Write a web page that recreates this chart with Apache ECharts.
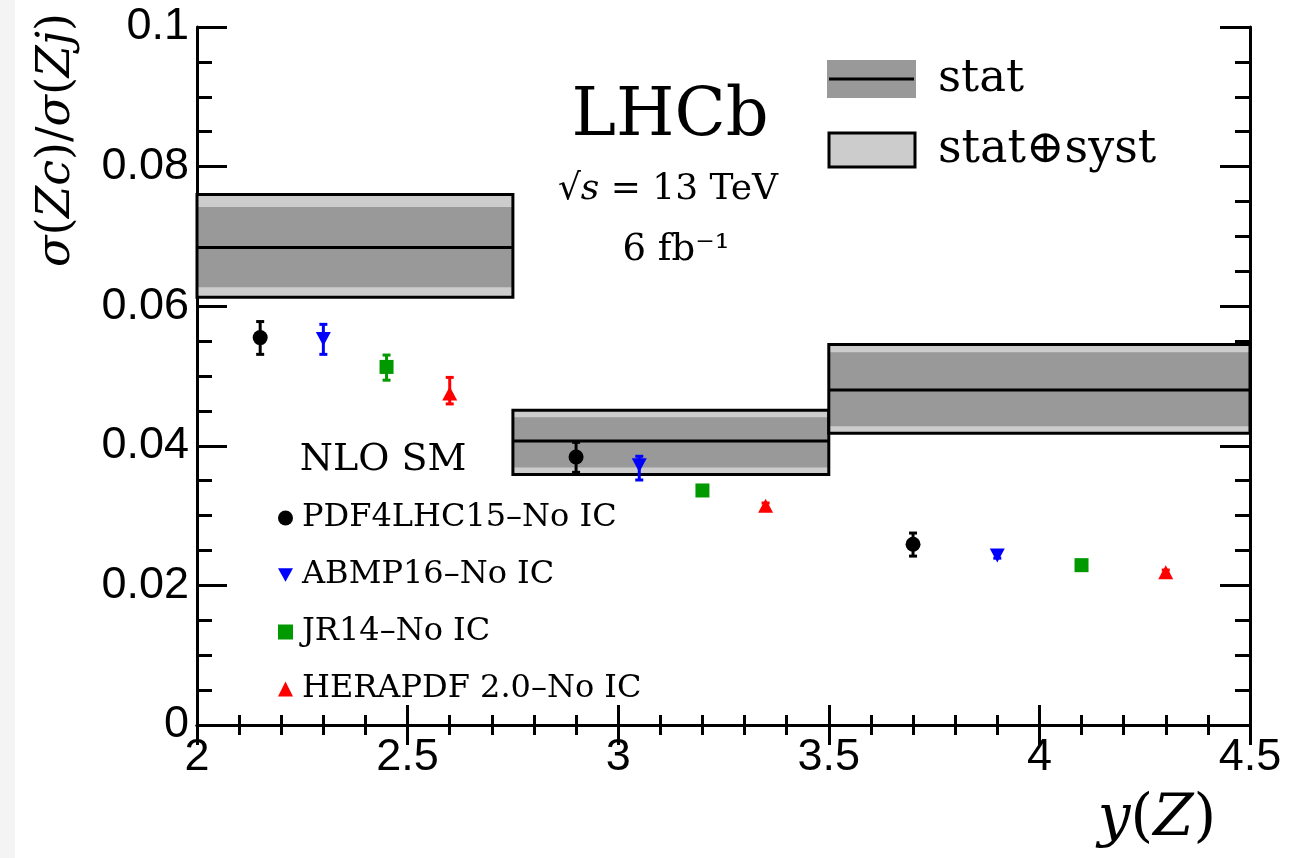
<!DOCTYPE html>
<html>
<head>
<meta charset="utf-8">
<script src="https://cdn.jsdelivr.net/npm/echarts@6/dist/echarts.min.js"></script>
<style>
  html, body { margin: 0; padding: 0; background: #fff; }
  #chart { width: 1312px; height: 858px; }
</style>
</head>
<body>
<div id="chart"></div>
<script>
// measured ratio in bins of y(Z)
const binLow = [2.0, 2.75, 3.5];
const binHigh = [2.75, 3.5, 4.5];
const central = [0.0684, 0.0407, 0.0480];
const statLow = [0.0627, 0.0369, 0.0428];
const statHigh = [0.0742, 0.0441, 0.0534];
const totLow = [0.0613, 0.0359, 0.0418];
const totHigh = [0.0760, 0.0451, 0.0545];

// NLO SM predictions (x shifted inside each bin)
const pdfX = [2.15, 2.9, 3.7];
const pdfY = [0.0555, 0.0384, 0.0259];
const pdfLo = [0.0531, 0.0362, 0.0242];
const pdfHi = [0.0578, 0.0405, 0.0275];

const abmX = [2.3, 3.05, 3.9];
const abmY = [0.0553, 0.0372, 0.0243];
const abmLo = [0.0531, 0.0351, 0.0239];
const abmHi = [0.0574, 0.0385, 0.0247];

const jrX = [2.45, 3.2, 4.1];
const jrY = [0.0513, 0.0336, 0.0229];
const jrLo = [0.0494, 0.0332, 0.0226];
const jrHi = [0.0530, 0.0340, 0.0232];

const heraX = [2.6, 3.35, 4.3];
const heraY = [0.0475, 0.0314, 0.0219];
const heraLo = [0.0460, 0.0310, 0.0216];
const heraHi = [0.0498, 0.0318, 0.0222];

const xTicks = { min: 2, max: 4.5, interval: 0.5 };
const yTicks = { min: 0, max: 0.1, interval: 0.02 };

const serif = "'DejaVu Serif', serif";
const tickFont = "'Liberation Sans', sans-serif";
const downTri = 'path://M0,0 L10,0 L5,9 Z';

const chart = echarts.init(document.getElementById('chart'), null, { renderer: 'canvas' });

const bandData = binLow.map((lo, i) => [lo, binHigh[i], central[i], statLow[i], statHigh[i], totLow[i], totHigh[i]]);

function renderBand(params, api) {
  const tl = api.coord([api.value(0), api.value(6)]);
  const br = api.coord([api.value(1), api.value(5)]);
  const st = api.coord([api.value(0), api.value(4)]);
  const sb = api.coord([api.value(1), api.value(3)]);
  const c0 = api.coord([api.value(0), api.value(2)]);
  const c1 = api.coord([api.value(1), api.value(2)]);
  const tot = { x: tl[0], y: tl[1], width: br[0] - tl[0], height: br[1] - tl[1] };
  return {
    type: 'group',
    children: [
      { type: 'rect', shape: tot, style: { fill: '#cccccc' } },
      { type: 'rect', shape: { x: st[0], y: st[1], width: sb[0] - st[0], height: sb[1] - st[1] }, style: { fill: '#999999' } },
      { type: 'line', shape: { x1: c0[0], y1: c0[1], x2: c1[0], y2: c1[1] }, style: { stroke: '#000', lineWidth: 3 } },
      { type: 'rect', shape: tot, style: { fill: 'none', stroke: '#000', lineWidth: 3 } }
    ]
  };
}

function errorBars(name, color, xs, lo, hi) {
  return {
    name: name + ' err',
    type: 'custom',
    z: 3,
    data: xs.map((x, i) => [x, lo[i], hi[i]]),
    renderItem: function (params, api) {
      const a = api.coord([api.value(0), api.value(1)]);
      const b = api.coord([api.value(0), api.value(2)]);
      const cap = 4;
      return {
        type: 'group',
        children: [
          { type: 'line', shape: { x1: a[0], y1: a[1], x2: b[0], y2: b[1] }, style: { stroke: color, lineWidth: 3 } },
          { type: 'line', shape: { x1: a[0] - cap, y1: a[1], x2: a[0] + cap, y2: a[1] }, style: { stroke: color, lineWidth: 3 } },
          { type: 'line', shape: { x1: b[0] - cap, y1: b[1], x2: b[0] + cap, y2: b[1] }, style: { stroke: color, lineWidth: 3 } }
        ]
      };
    }
  };
}

function points(name, color, symbol, size, xs, ys) {
  return {
    name: name,
    type: 'scatter',
    z: 4,
    symbol: symbol,
    symbolSize: size,
    itemStyle: { color: color, opacity: 1 },
    data: xs.map((x, i) => [x, ys[i]])
  };
}

const axisLine = { show: true, lineStyle: { color: '#000', width: 3 } };

function xAxisDef(pos, showLabel) {
  return {
    type: 'value', position: pos, min: xTicks.min, max: xTicks.max, interval: xTicks.interval,
    axisLine: axisLine,
    axisTick: { inside: true, length: 20, lineStyle: { color: '#000', width: 3 } },
    minorTick: { show: true, splitNumber: 5, length: 10, lineStyle: { color: '#000', width: 3 } },
    splitLine: { show: false },
    axisLabel: { show: showLabel, margin: 10, color: '#000', fontFamily: tickFont, fontSize: 45 }
  };
}

function yAxisDef(pos, showLabel) {
  return {
    type: 'value', position: pos, min: yTicks.min, max: yTicks.max, interval: yTicks.interval,
    axisLine: axisLine,
    axisTick: { inside: true, length: 30, lineStyle: { color: '#000', width: 3 } },
    minorTick: { show: true, splitNumber: 4, length: 15, lineStyle: { color: '#000', width: 3 } },
    splitLine: { show: false },
    axisLabel: { show: showLabel, margin: 8, color: '#000', fontFamily: tickFont, fontSize: 45 }
  };
}

const option = {
  backgroundColor: '#fff',
  animation: false,
  grid: { left: 197, top: 27, right: 62, bottom: 133 },
  xAxis: [xAxisDef('bottom', true), xAxisDef('top', false)],
  yAxis: [yAxisDef('left', true), yAxisDef('right', false)],
  legend: {
    orient: 'vertical',
    left: 273,
    top: 497,
    itemWidth: 15,
    itemHeight: 15,
    itemGap: 25,
    textStyle: { fontFamily: serif, fontSize: 32, lineHeight: 32, color: '#000', padding: [0, 0, 0, 4] },
    data: [
      { name: 'PDF4LHC15–No IC', icon: 'circle' },
      { name: 'ABMP16–No IC', icon: downTri },
      { name: 'JR14–No IC', icon: 'rect' },
      { name: 'HERAPDF 2.0–No IC', icon: 'triangle' }
    ]
  },
  graphic: [
    { type: 'rect', left: 0, top: 0, shape: { width: 15, height: 858 }, style: { fill: '#f4f4f4' }, z: -1 },
    // stat / stat+syst key
    { type: 'rect', shape: { x: 827, y: 60, width: 89, height: 38 }, style: { fill: '#999999' } },
    { type: 'line', shape: { x1: 829, y1: 79, x2: 914, y2: 79 }, style: { stroke: '#000', lineWidth: 3 } },
    { type: 'text', x: 938, y: 79, style: { text: 'stat', font: "45px 'DejaVu Serif'", fill: '#000', align: 'left', verticalAlign: 'middle' } },
    { type: 'rect', shape: { x: 829, y: 133, width: 86, height: 34 }, style: { fill: '#cccccc', stroke: '#000', lineWidth: 3 } },
    { type: 'text', x: 938, y: 150, style: { text: 'stat⊕syst', font: "46px 'DejaVu Serif'", fill: '#000', align: 'left', verticalAlign: 'middle' } },
    // labels
    { type: 'text', x: 670, y: 118, style: { text: 'LHCb', font: "67px 'DejaVu Serif'", fill: '#000', align: 'center', verticalAlign: 'middle' } },
    {
      type: 'text', x: 668, y: 190,
      style: {
        text: '√{i|s} = 13 TeV', font: "36px 'DejaVu Serif'", fill: '#000', align: 'center', verticalAlign: 'middle',
        rich: { i: { fontStyle: 'italic', fontFamily: 'DejaVu Serif', fontSize: 36 } }
      }
    },
    { type: 'text', x: 676, y: 250, style: { text: '6 fb⁻¹', font: "37px 'DejaVu Serif'", fill: '#000', align: 'center', verticalAlign: 'middle' } },
    { type: 'text', x: 383, y: 460, style: { text: 'NLO SM', font: "38px 'DejaVu Serif'", fill: '#000', align: 'center', verticalAlign: 'middle' } },
    {
      type: 'text', x: 57, y: 140, rotation: Math.PI / 2,
      style: {
        text: '{i|σ}{r|(}{i|Zc}{r|)/}{i|σ}{r|(}{i|Zj}{r|)}', align: 'center', verticalAlign: 'middle',
        rich: {
          i: { fontStyle: 'italic', fontFamily: 'DejaVu Serif', fontSize: 46, fill: '#000' },
          r: { fontFamily: 'DejaVu Serif', fontSize: 46, fill: '#000' }
        }
      }
    },
    {
      type: 'text', x: 1157, y: 820,
      style: {
        text: '{i|y}{r|(}{i|Z}{r|)}', align: 'center', verticalAlign: 'middle',
        rich: {
          i: { fontStyle: 'italic', fontFamily: 'DejaVu Serif', fontSize: 58, fill: '#000' },
          r: { fontFamily: 'DejaVu Serif', fontSize: 58, fill: '#000' }
        }
      }
    }
  ],
  series: [
    {
      name: 'data', type: 'custom', z: 2,
      encode: { x: [0, 1], y: [2, 3, 4, 5, 6] },
      data: bandData,
      renderItem: renderBand
    },
    errorBars('PDF4LHC15–No IC', '#000000', pdfX, pdfLo, pdfHi),
    errorBars('ABMP16–No IC', '#0000ff', abmX, abmLo, abmHi),
    errorBars('JR14–No IC', '#009900', jrX, jrLo, jrHi),
    errorBars('HERAPDF 2.0–No IC', '#ff0000', heraX, heraLo, heraHi),
    points('PDF4LHC15–No IC', '#000000', 'circle', 15, pdfX, pdfY),
    points('ABMP16–No IC', '#0000ff', downTri, [15, 14], abmX, abmY),
    points('JR14–No IC', '#009900', 'rect', 14, jrX, jrY),
    points('HERAPDF 2.0–No IC', '#ff0000', 'triangle', [15, 14], heraX, heraY)
  ]
};

chart.setOption(option);
</script>
</body>
</html>
